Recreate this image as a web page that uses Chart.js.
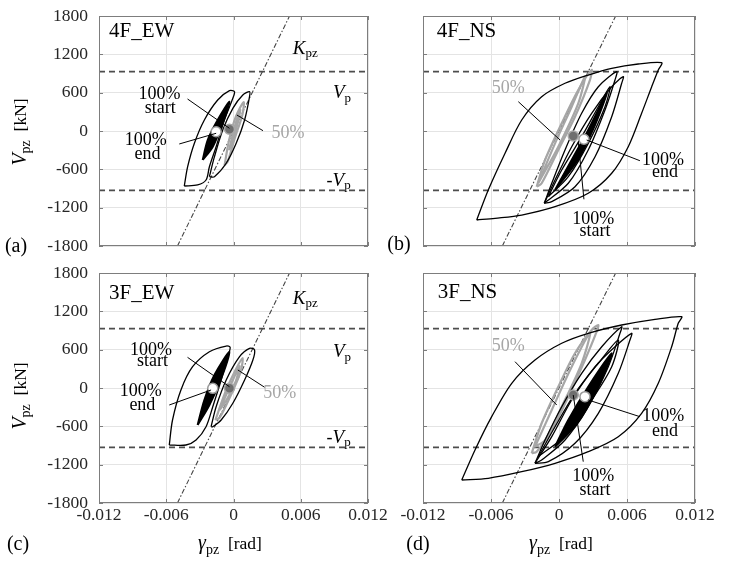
<!DOCTYPE html>
<html>
<head>
<meta charset="utf-8">
<script src="https://cdn.jsdelivr.net/npm/chart.js@4.4.0/dist/chart.umd.min.js"></script>
<style>
  body { margin: 0; background: #fff; }
  #wrap { position: relative; width: 731px; height: 567px; }
  canvas { position: absolute; left: 0; top: 0; }
</style>
</head>
<body>
<div id="wrap">
  <canvas id="pa" width="731" height="567"></canvas>
  <canvas id="pb" width="731" height="567"></canvas>
  <canvas id="pc" width="731" height="567"></canvas>
  <canvas id="pd" width="731" height="567"></canvas>
</div>
<script>
const W = 731, H = 567;
const SERIF = "'Liberation Serif','Times New Roman',serif";
const GRID = "#e4e4e4";
const TXT = "#262626";

const X_TICKS = [-0.012, -0.006, 0, 0.006, 0.012];
const Y_TICKS = [-1800, -1200, -600, 0, 600, 1200, 1800];
const VP = 930;        // kN, panel shear strength
const KPZ = 360000;    // kN/rad, elastic stiffness

// (a) 4F_EW
const a_loop1 = [[-0.00439,-861],[-0.00409,-559],[-0.00349,-192],[-0.0026,172],[-0.00141,485],[-0.00036,631],[0.00009,615],[-0.00006,512],[-0.00081,172],[-0.00155,-246],[-0.00215,-559],[-0.00245,-767],[-0.0032,-845]];
const a_loop2 = [[-0.00215,-715],[-0.0017,-402],[-0.00096,16],[-0.00006,355],[0.00083,563],[0.00143,615],[0.00143,537],[0.00099,172],[0.00024,-193],[-0.00065,-505],[-0.0017,-715]];
const a_core = [[-0.00275,-454],[-0.0023,-141],[-0.00141,172],[-0.00036,459],[-0.00096,121],[-0.00185,-246]];
const a_gray1 = [[-0.0008,-540],[-0.0004,-150],[0.0002,220],[0.0009,450],[0.0008,260],[0.0001,-120],[-0.0005,-470]];
const a_gray2 = [[-0.0004,-300],[0.0001,60],[0.0006,330],[0.0004,140],[-0.0001,-180]];
const a_start = [-0.00036, 27];
const a_end = [-0.00155, -11];

// (b) 4F_NS
const b_loop1 = [[-0.00726,-1393],[-0.00624,-924],[-0.00476,-349],[-0.00329,172],[-0.00153,537],[0.00053,747],[0.00258,876],[0.00465,981],[0.00699,1049],[0.00906,1069],[0.00876,955],[0.00818,693],[0.00729,277],[0.00611,-246],[0.00465,-662],[0.00258,-975],[-0.00035,-1185],[-0.00329,-1315],[-0.00564,-1366]];
const b_loop2 = [[-0.0013,-1131],[-0.00064,-818],[0.00053,-297],[0.002,277],[0.00347,693],[0.00509,928],[0.00494,798],[0.00406,329],[0.00258,-297],[0.00082,-818]];
const b_loop3 = [[-0.0013,-1131],[-0.00035,-767],[0.00112,-246],[0.00288,277],[0.00465,693],[0.00567,850],[0.00553,747],[0.00465,224],[0.00318,-402],[0.00141,-872],[-0.00064,-1106]];
const b_loop4 = [[-0.00094,-1028],[0.00024,-610],[0.002,-89],[0.00347,380],[0.0045,693],[0.00406,380],[0.00258,-193],[0.00082,-715]];
const b_core = [[-0.00035,-923],[0.00112,-454],[0.00258,16],[0.00421,590],[0.00305,40],[0.0016,-470]];
const b_gray1 = [[-0.00197,-872],[-0.00123,-454],[0.00024,121],[0.0017,642],[0.00288,955],[0.00273,798],[0.00141,224],[-0.00006,-297],[-0.00153,-818]];
const b_gray2 = [[-0.00183,-818],[-0.00035,-193],[0.00112,380],[0.00229,850],[0.0017,433],[-0.00006,-246]];
const b_start = [0.00126, -78];
const b_end = [0.0022, -130];

// (c) 3F_EW
const c_loop1 = [[-0.00573,-892],[-0.00544,-501],[-0.00469,-31],[-0.00365,333],[-0.00215,568],[-0.00065,657],[-0.0003,637],[-0.00051,490],[-0.0011,125],[-0.00185,-293],[-0.00245,-606],[-0.00334,-814],[-0.00424,-892]];
const c_loop2 = [[-0.002,-606],[-0.00155,-293],[-0.00065,125],[0.00054,490],[0.00143,621],[0.00188,595],[0.00173,438],[0.00099,125],[-0.00006,-239],[-0.0011,-501],[-0.00185,-606]];
const c_core = [[-0.0032,-579],[-0.0026,-188],[-0.0017,203],[-0.00036,568],[-0.00108,157],[-0.00215,-266]];
const c_gray1 = [[-0.00161,-501],[-0.00072,-63],[0.00018,282],[0.00081,470],[0.00063,250],[-0.00027,-125],[-0.00125,-470]];
const c_gray2 = [[-0.00125,-344],[-0.00018,78],[0.00054,344],[0.00018,94],[-0.00072,-219]];
const c_start = [-0.00036, -5];
const c_end = [-0.00185, -5];

// (d) 3F_NS
const d_loop1 = [[-0.00858,-1440],[-0.00741,-970],[-0.00594,-449],[-0.00417,74],[-0.00212,438],[0.00024,700],[0.00258,856],[0.00553,986],[0.00847,1075],[0.01082,1116],[0.01052,1013],[0.00994,646],[0.00876,74],[0.00729,-396],[0.00523,-762],[0.00258,-997],[-0.00035,-1178],[-0.00329,-1310],[-0.00624,-1413]];
const d_loop2 = [[-0.00212,-1178],[-0.00123,-814],[0.00024,-293],[0.002,230],[0.00377,646],[0.00553,959],[0.00538,856],[0.00435,333],[0.00258,-293],[0.00053,-814],[-0.00153,-1127]];
const d_loop3 = [[-0.00212,-1178],[-0.00064,-762],[0.00112,-188],[0.00318,333],[0.00494,646],[0.00641,856],[0.00626,751],[0.00523,230],[0.00347,-396],[0.00141,-865],[-0.00094,-1153]];
const d_loop4 = [[-0.00183,-1075],[-0.00035,-606],[0.00141,-83],[0.00347,387],[0.00523,751],[0.00465,333],[0.00288,-188],[0.00082,-709]];
const d_core = [[-0.00035,-919],[0.00082,-501],[0.00258,20],[0.00465,543],[0.00335,-20],[0.0016,-560]];
const d_gray1 = [[-0.00241,-1022],[-0.00153,-552],[-0.00006,20],[0.00141,543],[0.00288,908],[0.00347,986],[0.00332,881],[0.00229,438],[0.00082,-136],[-0.00064,-657],[-0.00197,-997]];
const d_gray2 = [[-0.00212,-919],[-0.00064,-344],[0.00112,333],[0.00273,856],[0.002,387],[0.00024,-293],[-0.00123,-814]];
const d_start = [0.00126, -110];
const d_end = [0.00229, -136];

// layout + annotations per panel (text anchors in data units)
const PANELS = {
  pa: {
    area: [99, 16, 368, 246], showX: false, showY: true,
    tag: ["(a)", 16, 247], title: ["4F_EW", -0.0111, 1550],
    yTitle: [21, 132], xTitle: null,
    kpz: [0.00529, 1291], vp: [0.00887, 587], mvp: [0.0083, -783],
    notes: [["100%", -0.0066, 579], ["start", -0.00654, 352], ["100%", -0.00782, -141], ["end", -0.00768, -360]],
    grayNote: ["50%", 0.00487, -36],
    leaders: [[-0.0041, 501, -0.00036, 42], [-0.00484, -203, -0.00155, -36], [0.00263, 5, 0.0003, 250]],
  },
  pb: {
    area: [423, 16, 695, 246], showX: false, showY: false,
    tag: ["(b)", 399, 245], title: ["4F_NS", -0.01079, 1560],
    yTitle: null, xTitle: null,
    notes: [["100%", 0.00917, -454], ["end", 0.00935, -642], ["100%", 0.00303, -1382], ["start", 0.00318, -1576]],
    grayNote: ["50%", -0.00447, 668],
    leaders: [[-0.00359, 459, 0.00009, -141], [0.00714, -465, 0.00244, -141], [0.0022, -1069, 0.0017, -167]],
  },
  pc: {
    area: [99, 273, 368, 503], showX: true, showY: true,
    tag: ["(c)", 18, 545], title: ["3F_EW", -0.0111, 1487],
    yTitle: [21, 396], xTitle: [230, 544],
    kpz: [0.00529, 1393], vp: [0.00887, 556], mvp: [0.0083, -783],
    notes: [["100%", -0.00737, 595], ["start", -0.00723, 412], ["100%", -0.00827, -58], ["end", -0.00813, -266]],
    grayNote: ["50%", 0.00412, -83],
    leaders: [[-0.0041, 480, -0.00036, 20], [-0.00573, -266, -0.002, -31], [0.00278, 11, 0.00039, 282]],
  },
  pd: {
    area: [423, 273, 695, 503], showX: true, showY: false,
    tag: ["(d)", 418, 545], title: ["3F_NS", -0.0107, 1495],
    yTitle: null, xTitle: [561, 544],
    notes: [["100%", 0.0092, -449], ["end", 0.00935, -684], ["100%", 0.00303, -1388], ["start", 0.00318, -1607]],
    grayNote: ["50%", -0.00447, 646],
    leaders: [[-0.00388, 412, -0.0002, -266], [0.00714, -449, 0.00258, -188], [0.00214, -1153, 0.00126, -110]],
  },
};

const toXY = pts => pts.map(([x, y]) => ({ x, y }));

function loop(pts, color, width, fillIt) {
  return {
    data: toXY(pts.concat([pts[0]])),
    showLine: true, borderColor: color, borderWidth: width,
    backgroundColor: color, fill: fillIt ? "shape" : false,
    pointRadius: 0, tension: 0.3,
  };
}

function marker(pt, fill, edge) {
  return {
    data: toXY([pt]), showLine: false, pointRadius: 5,
    pointBackgroundColor: fill, pointBorderColor: edge, pointBorderWidth: 1.5,
  };
}

function refLines() {
  return [
    { data: toXY([[-1800 / KPZ, -1800], [1800 / KPZ, 1800]]), showLine: true, borderColor: "#444444",
      borderWidth: 1.1, borderDash: [5, 2, 1.5, 2], pointRadius: 0 },
    { data: toXY([[-0.012, VP], [0.012, VP]]), showLine: true, borderColor: "#4d4d4d",
      borderWidth: 1.8, borderDash: [6, 4], pointRadius: 0 },
    { data: toXY([[-0.012, -VP], [0.012, -VP]]), showLine: true, borderColor: "#4d4d4d",
      borderWidth: 1.8, borderDash: [6, 4], pointRadius: 0 },
  ];
}

function rich(ctx, parts, x, y, align) {
  let w = 0;
  parts.forEach(p => { ctx.font = p[1]; w += ctx.measureText(p[0]).width; });
  let cx = align === "center" ? x - w / 2 : x;
  parts.forEach(p => {
    ctx.font = p[1];
    ctx.fillText(p[0], cx, y + (p[2] || 0));
    cx += ctx.measureText(p[0]).width;
  });
}

const IT = "italic 19px " + SERIF, SUB = "13px " + SERIF, RM = "17.5px " + SERIF;

const deco = {
  id: "deco",
  afterDraw(chart) {
    const p = PANELS[chart.canvas.id];
    const { ctx, chartArea: a } = chart;
    const sx = chart.scales.x, sy = chart.scales.y;
    const px = v => sx.getPixelForValue(v), py = v => sy.getPixelForValue(v);
    ctx.save();

    // box + inward ticks
    ctx.strokeStyle = "#7d7d7d";
    ctx.lineWidth = 1;
    ctx.strokeRect(a.left + 0.5, a.top + 0.5, a.right - a.left - 1, a.bottom - a.top - 1);
    ctx.beginPath();
    X_TICKS.forEach(v => {
      const x = Math.round(px(v)) + 0.5;
      ctx.moveTo(x, a.top); ctx.lineTo(x, a.top + 4);
      ctx.moveTo(x, a.bottom); ctx.lineTo(x, a.bottom - 4);
    });
    Y_TICKS.forEach(v => {
      const y = Math.round(py(v)) + 0.5;
      ctx.moveTo(a.left, y); ctx.lineTo(a.left + 4, y);
      ctx.moveTo(a.right, y); ctx.lineTo(a.right - 4, y);
    });
    ctx.stroke();

    // leader lines
    ctx.strokeStyle = "#000";
    ctx.lineWidth = 1;
    ctx.beginPath();
    p.leaders.forEach(([x1, y1, x2, y2]) => { ctx.moveTo(px(x1), py(y1)); ctx.lineTo(px(x2), py(y2)); });
    ctx.stroke();

    ctx.textBaseline = "middle";
    ctx.fillStyle = "#000";
    ctx.textAlign = "center";
    ctx.font = "18px " + SERIF;
    p.notes.forEach(([t, x, y]) => ctx.fillText(t, px(x), py(y)));
    ctx.fillStyle = "#a6a6a6";
    ctx.fillText(p.grayNote[0], px(p.grayNote[1]), py(p.grayNote[2]));

    ctx.fillStyle = "#000";
    ctx.textAlign = "left";
    ctx.font = "21px " + SERIF;
    ctx.fillText(p.title[0], px(p.title[1]), py(p.title[2]));

    if (p.kpz) {
      rich(ctx, [["K", IT], ["pz", SUB, 5]], px(p.kpz[0]), py(p.kpz[1]), "left");
      rich(ctx, [["V", IT], ["p", SUB, 5]], px(p.vp[0]), py(p.vp[1]), "left");
      rich(ctx, [["-", "18px " + SERIF], ["V", IT], ["p", SUB, 5]], px(p.mvp[0]), py(p.mvp[1]), "left");
    }

    ctx.textAlign = "center";
    ctx.font = "20px " + SERIF;
    ctx.fillText(p.tag[0], p.tag[1], p.tag[2]);

    ctx.textAlign = "left";
    if (p.yTitle) {
      ctx.save();
      ctx.translate(p.yTitle[0], p.yTitle[1]);
      ctx.rotate(-Math.PI / 2);
      rich(ctx, [["V", "italic 20px " + SERIF], ["pz", "14px " + SERIF, 5], ["  [kN]", RM]], 0, 0, "center");
      ctx.restore();
    }
    if (p.xTitle) {
      rich(ctx, [["\u03b3", "italic 20px " + SERIF], ["pz", "14px " + SERIF, 6], ["  [rad]", RM]], p.xTitle[0], p.xTitle[1], "center");
    }
    ctx.restore();
  },
};

function makeChart(id, datasets) {
  const p = PANELS[id];
  const [L, T, R, B] = p.area;
  const tickFont = { family: SERIF, size: 17.5 };
  return new Chart(document.getElementById(id), {
    type: "scatter",
    data: { datasets },
    options: {
      responsive: false,
      animation: false,
      layout: { padding: { left: 0, top: T, right: W - R, bottom: 0 } },
      plugins: { legend: { display: false }, tooltip: { enabled: false } },
      scales: {
        x: {
          type: "linear", min: -0.012, max: 0.012,
          afterBuildTicks: s => { s.ticks = X_TICKS.map(v => ({ value: v })); },
          grid: { color: GRID, drawTicks: false },
          border: { display: false },
          ticks: {
            display: p.showX, padding: 2, color: TXT, font: tickFont, maxRotation: 0, autoSkip: false,
            callback: v => String(Number(Number(v).toFixed(3))),
          },
          afterFit: s => { s.height = H - B; s.paddingLeft = 0; s.paddingRight = 0; },
        },
        y: {
          type: "linear", min: -1800, max: 1800,
          afterBuildTicks: s => { s.ticks = Y_TICKS.map(v => ({ value: v })); },
          grid: { color: GRID, drawTicks: false },
          border: { display: false },
          ticks: { display: p.showY, padding: 11, color: TXT, font: tickFont, autoSkip: false, callback: v => String(v) },
          afterFit: s => { s.width = L; s.paddingTop = 0; s.paddingBottom = 0; },
        },
      },
    },
    plugins: [deco],
  });
}

function panelSets(s) {
  return [
    marker(s.end, "#ffffff", "#9a9a9a"),
    marker(s.start, "#6f6f6f", "#a8a8a8"),
    ...s.black.map(l => loop(l, "#000000", 1.3, false)),
    loop(s.core, "#000000", 2, true),
    ...s.gray.map(l => loop(l, "#a6a6a6", 2.2, false)),
    ...refLines(),
  ];
}

makeChart("pa", panelSets({ end: a_end, start: a_start, black: [a_loop1, a_loop2], core: a_core, gray: [a_gray1, a_gray2] }));
makeChart("pb", panelSets({ end: b_end, start: b_start, black: [b_loop1, b_loop2, b_loop3, b_loop4], core: b_core, gray: [b_gray1, b_gray2] }));
makeChart("pc", panelSets({ end: c_end, start: c_start, black: [c_loop1, c_loop2], core: c_core, gray: [c_gray1, c_gray2] }));
makeChart("pd", panelSets({ end: d_end, start: d_start, black: [d_loop1, d_loop2, d_loop3, d_loop4], core: d_core, gray: [d_gray1, d_gray2] }));
</script>
</body>
</html>
